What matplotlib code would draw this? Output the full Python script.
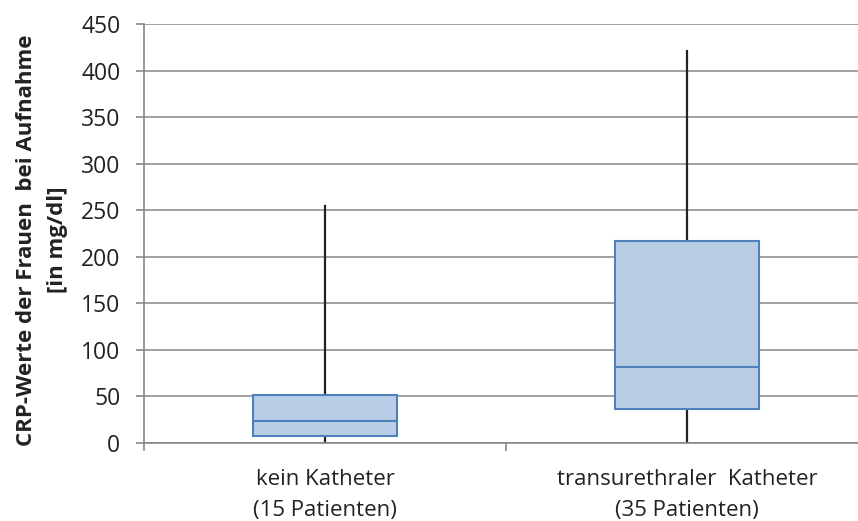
import matplotlib.pyplot as plt
import numpy as np

# CRP values (mg/dl) per group: whisker low, Q1, median, Q3, whisker high
groups = ['kein Katheter\n(15 Patienten)', 'transurethraler  Katheter\n(35 Patienten)']
whislo = [1, 1]
q1 = [7, 37]
med = [24, 82]
q3 = [52, 217]
whishi = [254, 421]

plt.rcParams['font.family'] = ['Open Sans', 'DejaVu Sans']

fig = plt.figure(figsize=(8.58, 5.21), dpi=100)
ax = fig.add_axes([0.1678, 0.1497, 0.8439, 0.8043])

stats = []
for i in range(len(groups)):
    stats.append(dict(whislo=whislo[i], q1=q1[i], med=med[i], q3=q3[i],
                      whishi=whishi[i], label=groups[i]))

pos = np.arange(len(groups))
# whiskers drawn first so the boxes cover them
for i in range(len(groups)):
    ax.plot([pos[i], pos[i]], [whislo[i], whishi[i]], color='#222222', lw=1.6, zorder=2)

ax.bxp(stats, positions=pos, widths=0.4, showfliers=False, showcaps=False,
       patch_artist=True,
       boxprops=dict(facecolor='#b9cde5', edgecolor='#4f81bd', linewidth=1.5),
       medianprops=dict(color='#4f81bd', linewidth=1.5),
       whiskerprops=dict(linewidth=0),
       zorder=3)

ax.set_xlim(-0.5, 1.5)
ax.set_ylim(0, 450)
ax.set_yticks(np.arange(0, 451, 50))
ax.yaxis.grid(True, color='#a0a0a0', lw=1.4)
ax.set_axisbelow(True)

ax.set_xticks([-0.5, 0.5, 1.5])
ax.set_xticklabels([])
ax.set_xticks(pos, minor=True)
ax.set_xticklabels(groups, minor=True, fontsize=16, color='#222222', linespacing=1.6)
ax.tick_params(axis='x', which='minor', length=0, pad=19)
ax.tick_params(axis='x', which='major', length=6, color='#888888', width=1.2)
ax.tick_params(axis='y', length=6, color='#888888', width=1.2, labelsize=16.5,
               labelcolor='#222222', pad=11)

for s in ['top', 'right']:
    ax.spines[s].set_visible(False)
for s in ['left', 'bottom']:
    ax.spines[s].set_color('#888888')
    ax.spines[s].set_linewidth(1.2)

fig.text(0.049, 0.539, 'CRP-Werte der Frauen  bei Aufnahme\n[in mg/dl]', fontsize=16,
         fontweight='bold', color='#222222', linespacing=1.6, rotation=90,
         ha='center', va='center', multialignment='center')

fig.savefig('out.png', dpi=100)
